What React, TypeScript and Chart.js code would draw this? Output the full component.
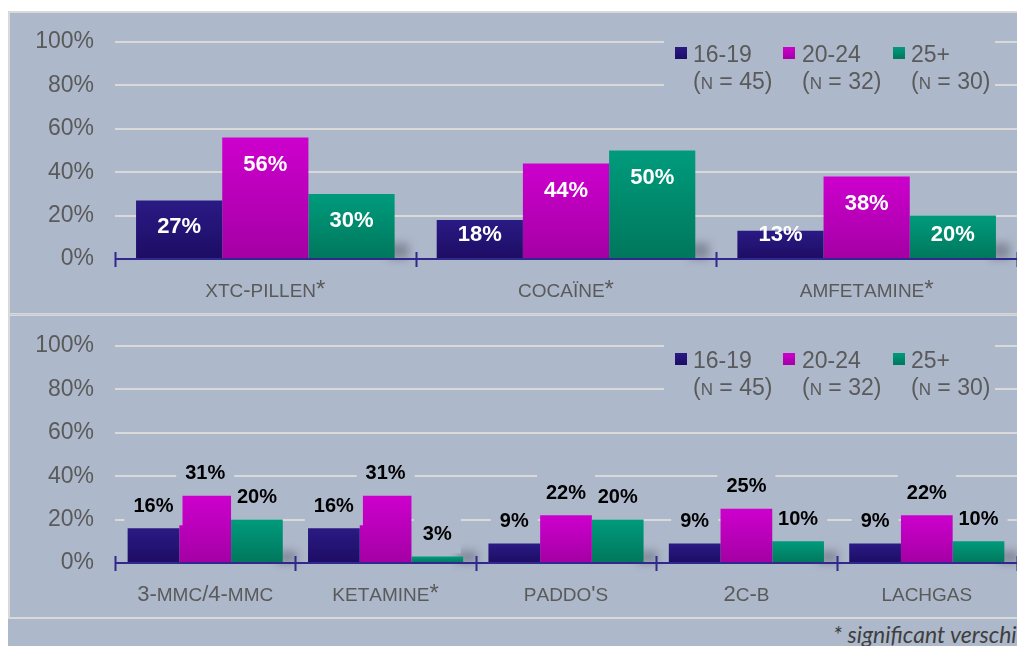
import React, { useEffect, useRef } from 'react';
import Chart from 'chart.js/auto';

// ---------- data ----------
const seriesNames = ['16-19', '20-24', '25+'];
const seriesN = ['45', '32', '30'];
const topCategories = ['xtc-pillen*', 'cocaïne*', 'amfetamine*'];
const top1619 = [27, 18, 13];
const top2024 = [56, 44, 38];
const top25 = [30, 50, 20];
const bottomCategories = ['3-mmc/4-mmc', 'ketamine*', "paddo's", '2c-b', 'lachgas'];
const bot1619 = [16, 16, 9, 9, 9];
const bot2024 = [31, 31, 22, 25, 22];
const bot25 = [20, 3, 20, 10, 10];
const yTicks = [0, 20, 40, 60, 80, 100];
const footnote = '* significant verschil tussen leeftijdsgroepen';

// ---------- style ----------
const BG = '#adb8ca';
const GRID = '#d9d9d9';
const AXIS = '#30288c';
const TEXT = '#5a5a5a';
const FONT = '"Liberation Sans", Arial, sans-serif';
const COLORS: string[][] = [
  ['#2a1a84', '#1d0d64'],
  ['#cd00cd', '#a400a4'],
  ['#009b7c', '#00775c'],
];

function barColor(i: number) {
  return (c: any) => {
    const ch = c.chart;
    const ys = ch.scales && ch.scales.y;
    if (c.type !== 'data' || !ys) return COLORS[i][0];
    const t = ys.getPixelForValue(c.raw);
    const b = ys.getPixelForValue(0);
    if (!isFinite(t) || !isFinite(b) || b - t < 1) return COLORS[i][0];
    const g = ch.ctx.createLinearGradient(0, t, 0, b);
    g.addColorStop(0, COLORS[i][0]);
    g.addColorStop(1, COLORS[i][1]);
    return g;
  };
}

type Part = { t: string; size: number; dy: number; w?: number };

function smallCapsParts(ctx: CanvasRenderingContext2D, text: string, big: number, small: number, star: number): Part[] {
  const parts: Part[] = [];
  for (const ch of text) {
    if (ch === '*') parts.push({ t: '*', size: star, dy: 0 });
    else if (ch !== ch.toUpperCase()) parts.push({ t: ch.toUpperCase(), size: small, dy: 0 });
    else parts.push({ t: ch, size: big, dy: 0 });
  }
  for (const p of parts) {
    ctx.font = `${p.size}px ${FONT}`;
    p.w = ctx.measureText(p.t).width;
  }
  return parts;
}

function drawParts(ctx: CanvasRenderingContext2D, parts: Part[], x: number, baseline: number, align: 'left' | 'center', color: string) {
  const total = parts.reduce((s, p) => s + (p.w || 0), 0);
  let cx = align === 'center' ? x - total / 2 : x;
  ctx.fillStyle = color;
  ctx.textAlign = 'left';
  ctx.textBaseline = 'alphabetic';
  for (const p of parts) {
    ctx.font = `${p.size}px ${FONT}`;
    ctx.fillText(p.t, cx, baseline + p.dy);
    cx += p.w || 0;
  }
}

type PanelProps = {
  categories: string[];
  values: number[][];
  height: number;
  padTop: number;
  inside: boolean;
  legendDy: number;
  smudgeH: number;
};

function Panel({ categories, values, height, padTop, inside, legendDy, smudgeH }: PanelProps) {
  const ref = useRef<HTMLCanvasElement>(null);
  useEffect(() => {
    const canvas = ref.current!;
    const plugin = {
      id: 'custom',
      beforeDatasetsDraw(chart: any) {
        const ctx = chart.ctx as CanvasRenderingContext2D;
        const ca = chart.chartArea;
        ctx.save();
        ctx.fillStyle = BG;
        ctx.fillRect(654, 16 + legendDy, 331, 72);
        const n = categories.length;
        const cw = ca.width / n;
        ctx.filter = 'blur(4px)';
        ctx.fillStyle = 'rgba(95,100,115,0.55)';
        for (let i = 0; i < n; i++) {
          const gr = ca.left + cw * (i + 0.5) + cw * 0.43;
          ctx.fillRect(gr - 6, ca.bottom - smudgeH, 20, smudgeH);
        }
        ctx.restore();
      },
      afterDatasetDraw(chart: any, args: any) {
        const ctx = chart.ctx as CanvasRenderingContext2D;
        const meta = args.meta;
        const di = args.index;
        ctx.save();
        meta.data.forEach((el: any, j: number) => {
          const txt = values[di][j] + '%';
          if (inside) {
            ctx.font = `bold 22px ${FONT}`;
            ctx.fillStyle = '#ffffff';
            ctx.textAlign = 'center';
            ctx.textBaseline = 'middle';
            const y = Math.min(el.y + 27, el.base - 23);
            ctx.fillText(txt, el.x, y);
          } else {
            ctx.font = `bold 20px ${FONT}`;
            const w = ctx.measureText(txt).width;
            const yb = el.y - 3;
            ctx.fillStyle = BG;
            ctx.fillRect(el.x - w / 2 - 9, yb - 38, w + 18, 38);
            ctx.fillStyle = '#000000';
            ctx.textAlign = 'center';
            ctx.textBaseline = 'middle';
            ctx.fillText(txt, el.x, el.y - 22);
          }
        });
        ctx.restore();
      },
      afterDatasetsDraw(chart: any) {
        const ctx = chart.ctx as CanvasRenderingContext2D;
        const ca = chart.chartArea;
        const n = categories.length;
        const cw = ca.width / n;
        ctx.save();
        ctx.strokeStyle = AXIS;
        ctx.lineWidth = 2;
        ctx.beginPath();
        ctx.moveTo(ca.left, ca.bottom);
        ctx.lineTo(ca.right, ca.bottom);
        for (let i = 0; i <= n; i++) {
          const x = Math.round(ca.left + cw * i) + 0.5;
          ctx.moveTo(x, ca.bottom - 7);
          ctx.lineTo(x, ca.bottom + 8);
        }
        ctx.stroke();
        categories.forEach((c, i) => {
          const parts = smallCapsParts(ctx, c, 22, 19, 24);
          drawParts(ctx, parts, ca.left + cw * (i + 0.5), ca.bottom + 38, 'center', TEXT);
        });
        // legend
        const sqX = [665, 773, 883];
        const txX = [683, 792, 901];
        for (let i = 0; i < 3; i++) {
          const g = ctx.createLinearGradient(0, 34 + legendDy, 0, 46 + legendDy);
          g.addColorStop(0, COLORS[i][0]);
          g.addColorStop(1, COLORS[i][1]);
          ctx.fillStyle = g;
          ctx.fillRect(sqX[i], 34 + legendDy, 12, 12);
          ctx.font = `23px ${FONT}`;
          ctx.fillStyle = TEXT;
          ctx.textAlign = 'left';
          ctx.textBaseline = 'alphabetic';
          ctx.fillText(seriesNames[i], txX[i], 49 + legendDy);
          const parts = smallCapsParts(ctx, `(n = ${seriesN[i]})`, 23, 17, 17);
          drawParts(ctx, parts, txX[i], 76 + legendDy, 'left', TEXT);
        }
        ctx.restore();
      },
    };

    const chart = new Chart(canvas, {
      type: 'bar',
      data: {
        labels: categories,
        datasets: seriesNames.map((s, i) => ({
          label: s,
          data: values[i],
          backgroundColor: barColor(i),
          borderWidth: 0,
          categoryPercentage: 0.86,
          barPercentage: 1,
        })),
      },
      options: {
        animation: false,
        responsive: false,
        maintainAspectRatio: false,
        layout: { padding: { top: padTop, left: 0, right: 0, bottom: 0 } },
        plugins: { legend: { display: false }, tooltip: { enabled: false } },
        scales: {
          x: {
            grid: { display: false },
            border: { display: false },
            ticks: { display: false },
            afterFit: (s: any) => {
              s.height = 54;
            },
          },
          y: {
            min: 0,
            max: 100,
            afterBuildTicks: (s: any) => {
              s.ticks = yTicks.map((v) => ({ value: v }));
            },
            ticks: {
              callback: (v: any) => v + '%',
              color: TEXT,
              font: { family: FONT, size: 23 },
              padding: 21,
            },
            grid: {
              color: (c: any) => (c.tick && c.tick.value === 0 ? 'rgba(0,0,0,0)' : GRID),
              lineWidth: 2,
              drawTicks: false,
            },
            border: { display: false },
            afterFit: (s: any) => {
              s.width = 105;
              s.paddingTop = 0;
              s.paddingBottom = 0;
            },
          },
        },
      } as any,
      plugins: [plugin as any],
    });
    return () => chart.destroy();
  }, []);
  return <canvas ref={ref} width={1007} height={height} style={{ display: 'block', width: 1007, height }} />;
}

export default function App() {
  return (
    <div
      style={{
        position: 'fixed',
        left: 8,
        top: 11,
        width: 1009,
        height: 635,
        background: BG,
        overflow: 'hidden',
      }}
    >
      <div style={{ borderLeft: `2px solid ${GRID}`, borderTop: `2px solid ${GRID}`, width: 1007 }}>
        <Panel categories={topCategories} values={[top1619, top2024, top25]} height={300} padTop={29} inside={true} legendDy={0} smudgeH={16} />
        <div style={{ height: 3, background: `linear-gradient(${GRID} 0 1px, #c4cad6 1px 2px, ${GRID} 2px 3px)` }} />
        <Panel categories={bottomCategories} values={[bot1619, bot2024, bot25]} height={301} padTop={30} inside={false} legendDy={3} smudgeH={12} />
      </div>
      <div style={{ height: 2, background: GRID }} />
      <div
        style={{
          position: 'absolute',
          left: 825,
          top: 609,
          whiteSpace: 'nowrap',
          font: 'italic 23px Lato, "Open Sans", sans-serif',
          lineHeight: '28px',
          color: '#3f3f3f',
        }}
      >
        {footnote}
      </div>
    </div>
  );
}
